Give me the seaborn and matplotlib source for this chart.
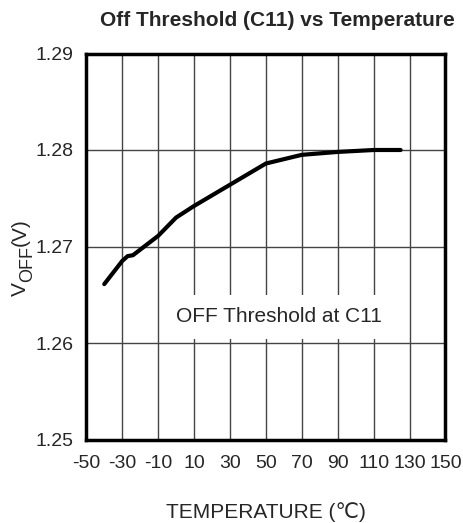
import matplotlib
matplotlib.use('Agg')
import matplotlib.pyplot as plt
import pandas as pd
import seaborn as sns

# Values
temperature = [-40, -30, -27, -24, -10, 0, 10, 30, 50, 70, 90, 110, 125]
v_off = [1.2661, 1.2685, 1.2690, 1.2691, 1.2711, 1.2730, 1.2742,
         1.2764, 1.2786, 1.2795, 1.2798, 1.2800, 1.2800]
x_ticks = [-50, -30, -10, 10, 30, 50, 70, 90, 110, 130, 150]
y_ticks = [1.25, 1.26, 1.27, 1.28, 1.29]

df = pd.DataFrame({'temp': temperature, 'voff': v_off})

sns.set_style('white')
plt.rcParams['font.family'] = ['Liberation Sans', 'DejaVu Sans']

W, H = 464, 523
fig = plt.figure(figsize=(W / 100, H / 100), dpi=100)
ax = fig.add_axes([86.3 / W, 1 - 439.5 / H, 359.2 / W, 386 / H])

sns.lineplot(data=df, x='temp', y='voff', ax=ax, color='black',
             linewidth=3, solid_capstyle='round')

ax.set_xlim(-50, 150)
ax.set_ylim(1.25, 1.29)
ax.set_xticks(x_ticks)
ax.set_yticks(y_ticks)
ax.set_xticklabels([str(t) for t in x_ticks])
ax.set_yticklabels([f'{t:.2f}' for t in y_ticks])
ax.tick_params(axis='x', length=0, pad=11, labelsize=14)
ax.tick_params(axis='y', length=0, pad=9, labelsize=14)
ax.grid(True, color='#444444', linewidth=1)
ax.set_axisbelow(True)
for s in ax.spines.values():
    s.set_linewidth(2.5)
    s.set_color('black')

ax.set_xlabel('TEMPERATURE (℃)', fontsize=15, labelpad=22)
ax.set_ylabel('')

ax.text(57, 1.2627, 'OFF Threshold at C11', ha='center', va='center',
        fontsize=15, zorder=3,
        bbox=dict(facecolor='white', edgecolor='none', pad=9))

fig.text(277 / W, 1 - 20 / H, 'Off Threshold (C11) vs Temperature',
         ha='center', va='center', fontsize=15, fontweight='bold')

# y label: V with a lowered OFF, built from pieces
renderer = fig.canvas.get_renderer()
y_px = 296
for txt, size, base_x in [('V', 15, 26), ('OFF', 13, 32), ('(V)', 15, 26)]:
    t = fig.text(base_x / W, 1 - y_px / H, txt, fontsize=size, rotation=90,
                 rotation_mode='anchor', ha='left', va='baseline')
    bb = t.get_window_extent(renderer)
    y_px -= bb.height

fig.savefig('out.png', dpi=100)
